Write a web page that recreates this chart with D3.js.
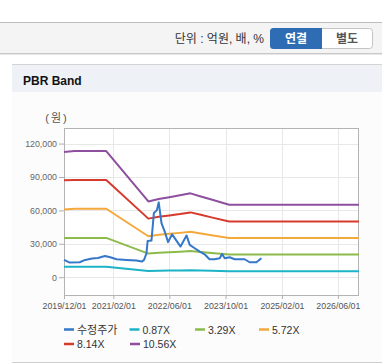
<!DOCTYPE html>
<html>
<head>
<meta charset="utf-8">
<script src="https://cdn.jsdelivr.net/npm/d3@7"></script>
<style>
  body { margin: 0; background: #fff; }
  svg { display: block; font-family: "Liberation Sans", "Noto Sans CJK KR", sans-serif; }
</style>
</head>
<body>
<div id="chart"></div>
<script>
// band dates (key points of the band lines)
const bandDates = ['2019-12-01', '2020-03-01', '2020-12-01', '2021-12-01', '2022-03-01', '2022-06-01',
  '2022-09-01', '2022-12-01', '2023-03-01', '2023-06-01', '2023-11-01', '2026-12-01'];
const band087 = [9300, 9300, 9300, 5600, 5800, 5900, 6100, 6200, 6000, 5800, 5400, 5400];
const band329 = [35100, 35300, 35300, 21200, 21900, 22400, 22900, 23500, 22600, 21700, 20300, 20300];
const band572 = [60900, 61500, 61500, 36800, 38100, 39000, 39800, 40800, 39300, 37700, 35200, 35200];
const band814 = [87000, 87300, 87300, 52600, 54200, 55500, 56700, 58200, 56000, 53700, 50000, 50000];
const band1056 = [112500, 113300, 113300, 68000, 70300, 71800, 73500, 75300, 72500, 69800, 65000, 65000];

// 수정주가
const priceDates = ['2019-12-01', '2020-01-15', '2020-04-15', '2020-06-01', '2020-08-01', '2020-09-20',
  '2020-11-20', '2021-01-05', '2021-03-01', '2021-05-25', '2021-08-20', '2021-10-05', '2021-10-25',
  '2021-11-15', '2021-11-25', '2021-12-28', '2022-01-18', '2022-02-12', '2022-03-01', '2022-03-25',
  '2022-04-22', '2022-05-21', '2022-06-25', '2022-07-25', '2022-09-06', '2022-10-28', '2022-11-25',
  '2023-01-07', '2023-02-20', '2023-04-03', '2023-05-15', '2023-06-28', '2023-08-12', '2023-09-01',
  '2023-09-24', '2023-11-06', '2023-12-19', '2024-03-15', '2024-04-27', '2024-06-25', '2024-08-07'];
const priceValues = [15500, 13300, 13400, 15500, 16700, 17300,
  19100, 17900, 16100, 15500, 14900, 14000, 15500,
  21500, 32600, 32900, 57600, 60000, 67200, 48600,
  41000, 31500, 38500, 34000, 27500, 37500, 29000,
  26000, 23000, 20600, 16100, 16100, 17000, 20900,
  17000, 17900, 16100, 16100, 13400, 13400, 17000];

const xTicks = ['2019-12-01', '2021-02-01', '2022-06-01', '2023-10-01', '2025-02-01', '2026-06-01'];
const yTicks = [0, 30000, 60000, 90000, 120000];

const seriesNames = ['수정주가', '0.87X', '3.29X', '5.72X', '8.14X', '10.56X'];
const seriesColors = ['#3577c9', '#1db3c6', '#8cbb4c', '#f4a93c', '#d63a2c', '#8e4f9f'];

const W = 382, H = 364;
const margin = { top: 128, right: 23, bottom: 69, left: 64 };
const parse = d3.timeParse('%Y-%m-%d');

const svg = d3.select('#chart').append('svg').attr('width', W).attr('height', H);

// top toolbar
svg.append('rect').attr('x', 0).attr('y', 22).attr('width', W).attr('height', 31).attr('fill', '#f4f4f4');
svg.append('line').attr('x1', 0).attr('x2', W).attr('y1', 22.5).attr('y2', 22.5).attr('stroke', '#bdbdbd');
svg.append('line').attr('x1', 0).attr('x2', W).attr('y1', 53.5).attr('y2', 53.5).attr('stroke', '#c8c8c8');
svg.append('line').attr('x1', 0).attr('x2', W).attr('y1', 54.5).attr('y2', 54.5).attr('stroke', '#e8e8e8');
svg.append('text').attr('x', 264).attr('y', 42.5).attr('text-anchor', 'end')
  .attr('font-size', 12).attr('fill', '#333').text('단위 : 억원, 배, %');

// buttons
svg.append('rect').attr('x', 270.5).attr('y', 28.5).attr('width', 102).attr('height', 20).attr('rx', 3)
  .attr('fill', '#fff').attr('stroke', '#c4c4c4');
svg.append('path').attr('d', 'M322,28 H273.5 Q270,28 270,31.5 V45.5 Q270,49 273.5,49 H322 Z').attr('fill', '#2e6db4');
svg.append('text').attr('x', 296).attr('y', 42.5).attr('text-anchor', 'middle').attr('font-size', 12)
  .attr('font-weight', 'bold').attr('fill', '#fff').text('연결');
svg.append('text').attr('x', 347).attr('y', 42.5).attr('text-anchor', 'middle').attr('font-size', 12)
  .attr('font-weight', 'bold').attr('fill', '#555').text('별도');

// panel
svg.append('rect').attr('x', 12).attr('y', 64).attr('width', W - 12).attr('height', 299).attr('fill', '#fcfcfc');
svg.append('rect').attr('x', 12).attr('y', 65).attr('width', W - 12).attr('height', 27).attr('fill', '#eef2f7');
svg.append('line').attr('x1', 12).attr('x2', W).attr('y1', 64.5).attr('y2', 64.5).attr('stroke', '#d4d4d4');
svg.append('line').attr('x1', 12).attr('x2', W).attr('y1', 362.5).attr('y2', 362.5).attr('stroke', '#cfcfcf');
svg.append('text').attr('x', 23).attr('y', 84.5).attr('font-size', 12).attr('font-weight', 'bold')
  .attr('fill', '#111').text('PBR Band');

const width = W - margin.left - margin.right;
const height = H - margin.top - margin.bottom;

const x = d3.scaleTime()
  .domain([parse('2019-12-01'), parse('2026-12-01')])
  .range([0, width]);
const y = d3.scaleLinear()
  .domain([-16000, 134000])
  .range([height, 0]);

const g = svg.append('g').attr('transform', 'translate(' + margin.left + ',' + margin.top + ')');

g.append('rect').attr('width', width).attr('height', height).attr('fill', '#fff');

// gridlines
g.append('g').selectAll('line').data(yTicks).join('line')
  .attr('x1', 0).attr('x2', width)
  .attr('y1', d => Math.round(y(d)) + 0.5).attr('y2', d => Math.round(y(d)) + 0.5)
  .attr('stroke', '#e8e8e8');
g.append('g').selectAll('line').data(xTicks.map(parse)).join('line')
  .attr('x1', d => Math.round(x(d)) + 0.5).attr('x2', d => Math.round(x(d)) + 0.5)
  .attr('y1', 0).attr('y2', height)
  .attr('stroke', '#e8e8e8');

// axes
const xAxis = d3.axisBottom(x).tickValues(xTicks.map(parse)).tickFormat(d3.timeFormat('%Y/%m/%d'))
  .tickSize(4).tickPadding(4);
const gx = g.append('g').attr('class', 'x axis').attr('transform', 'translate(0,' + height + ')').call(xAxis);
gx.select('.domain').remove();
gx.selectAll('line').attr('stroke', '#b0b0b0');
gx.selectAll('text').attr('font-size', 8.8).attr('fill', '#555');

const yAxis = d3.axisLeft(y).tickValues(yTicks).tickFormat(d3.format(',')).tickSize(5).tickPadding(2);
const gy = g.append('g').attr('class', 'y axis').call(yAxis);
gy.select('.domain').remove();
gy.selectAll('line').attr('stroke', '#b0b0b0');
gy.selectAll('text').attr('font-size', 8.8).attr('fill', '#666');

// plot border
g.append('rect').attr('x', 0.5).attr('y', 0.5).attr('width', width - 1).attr('height', height)
  .attr('fill', 'none').attr('stroke', '#b3b3b3');

svg.append('text').attr('x', 57).attr('y', 122).attr('text-anchor', 'middle')
  .attr('font-size', 11).attr('letter-spacing', 2).attr('fill', '#555').text('(원)');

// lines
const line = d3.line()
  .x(d => x(d.date))
  .y(d => y(d.value));

const bands = [band087, band329, band572, band814, band1056];
const series = [priceDates.map((d, i) => ({ date: parse(d), value: priceValues[i] }))]
  .concat(bands.map(b => bandDates.map((d, i) => ({ date: parse(d), value: b[i] }))));

// draw bands first, price on top
[1, 2, 3, 4, 5, 0].forEach(i => {
  g.append('path')
    .datum(series[i])
    .attr('fill', 'none')
    .attr('stroke', seriesColors[i])
    .attr('stroke-width', 2)
    .attr('stroke-linejoin', 'round')
    .attr('d', line);
});

// legend
const legendPos = [
  { mx: 64, y: 329.5 }, { mx: 129.5, y: 329.5 }, { mx: 195, y: 329.5 }, { mx: 259, y: 329.5 },
  { mx: 64, y: 344 }, { mx: 130, y: 344 }
];
const legend = svg.append('g').selectAll('g').data(seriesNames).join('g')
  .attr('transform', (d, i) => 'translate(' + legendPos[i].mx + ',' + legendPos[i].y + ')');
legend.append('line').attr('x1', 0).attr('x2', 10).attr('y1', 0).attr('y2', 0)
  .attr('stroke', (d, i) => seriesColors[i]).attr('stroke-width', 2.5);
legend.append('text').attr('x', 13).attr('y', 4).attr('font-size', (d, i) => i === 0 ? 11 : 10.5)
  .attr('fill', '#333').text(d => d);
</script>
</body>
</html>
